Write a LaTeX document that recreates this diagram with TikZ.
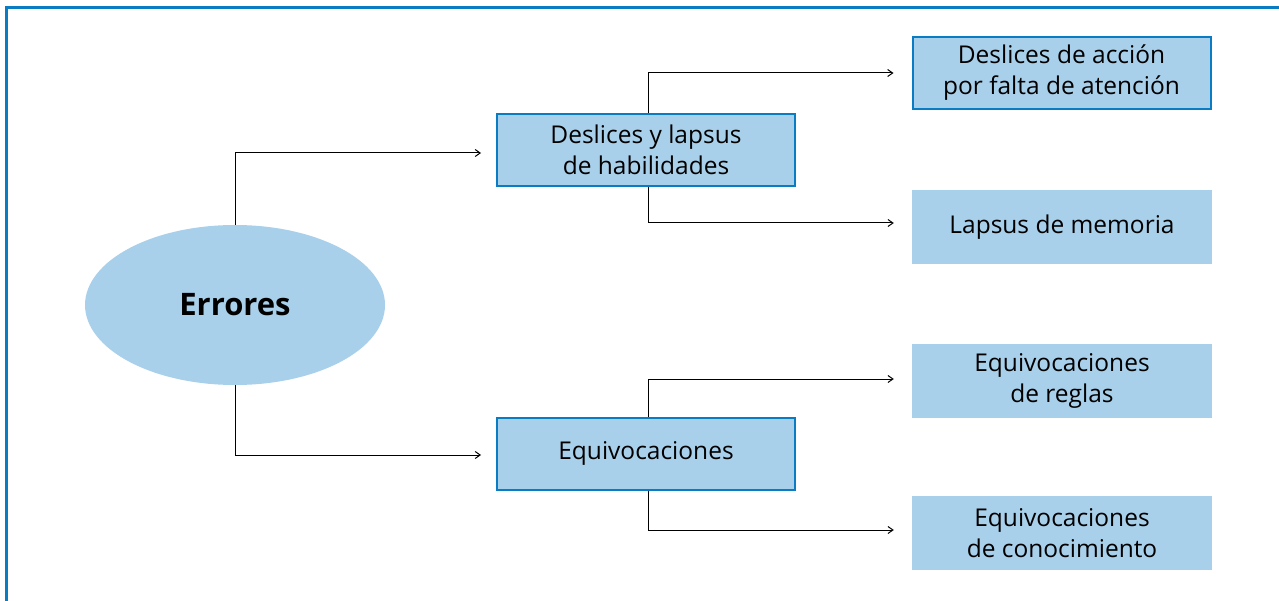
\documentclass[tikz,border=0pt]{standalone}
\usepackage{fontspec}
\setmainfont{Open Sans}
\usetikzlibrary{arrows.meta,shapes.geometric}
\definecolor{fillblue}{HTML}{A9D0EA}
\definecolor{lineblue}{HTML}{0A7CC4}
\begin{document}
\begin{tikzpicture}[x=1pt,y=-1pt,
  box/.style={fill=fillblue, minimum width=300pt, minimum height=74pt, inner sep=0pt,
    align=center, font=\fontsize{24.5}{31}\selectfont},
  framed/.style={box, draw=lineblue, line width=2pt, minimum width=298pt, minimum height=72pt},
  conn/.style={draw=black, line width=1pt, shorten >=18pt,
    -{Straight Barb[length=5pt,width=7pt]}}]
\useasboundingbox (0,0) rectangle (1279,601);
\draw[lineblue, line width=3pt] (6.5,601) -- (6.5,7.5) -- (1279,7.5);

\node[ellipse, fill=fillblue, minimum width=300pt, minimum height=160pt, inner sep=0pt,
  font=\fontsize{31}{36}\selectfont\bfseries] (err) at (235,305) {Errores};

\node[framed] (b1) at (646,150) {Deslices y lapsus\\de habilidades};
\node[framed] (b2) at (646,453.5) {Equivocaciones};

\node[framed] (b11) at (1061.5,73) {Deslices de acción\\por falta de atención};
\node[box] (b12) at (1062,227) {Lapsus de memoria};
\node[box] (b21) at (1062,381) {Equivocaciones\\de reglas};
\node[box] (b22) at (1062,533) {Equivocaciones\\de conocimiento};

\draw[conn, shorten >=15pt] (err.north) |- ([yshift=-3pt]b1.west);
\draw[conn, shorten >=15pt] (err.south) |- ([yshift=-1.5pt]b2.west);
\draw[conn] ([xshift=2pt]b1.north) |- (b11.west);
\draw[conn] ([xshift=2pt]b1.south) |- ([yshift=4pt]b12.west);
\draw[conn] ([xshift=2pt]b2.north) |- ([yshift=2pt]b21.west);
\draw[conn] ([xshift=2pt]b2.south) |- ([yshift=3pt]b22.west);
\end{tikzpicture}
\end{document}
